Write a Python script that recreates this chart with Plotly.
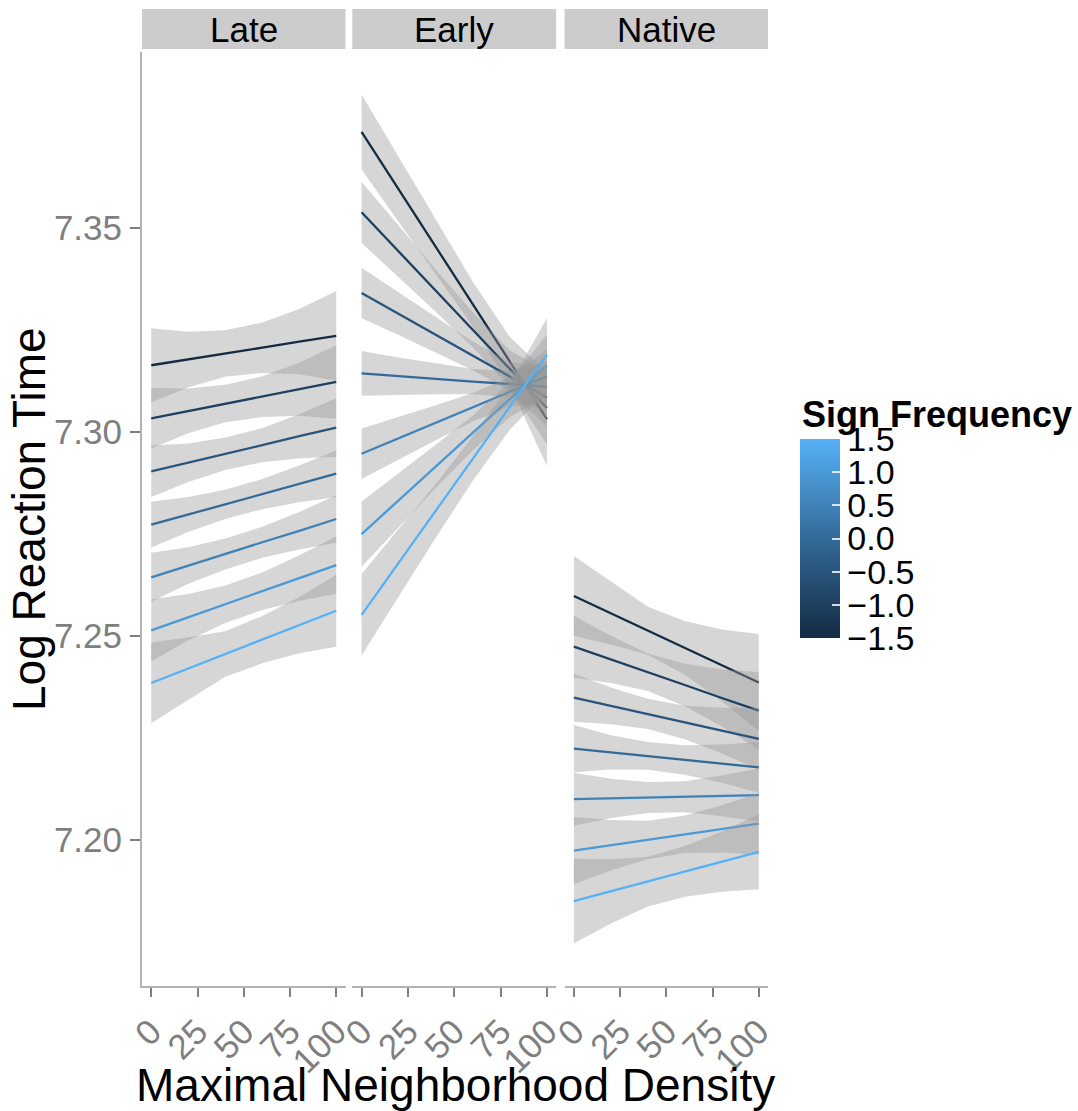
import plotly.graph_objects as go
from plotly.subplots import make_subplots
from plotly.colors import sample_colorscale

W, H = 1078, 1111

# ---- data -------------------------------------------------------------
panels = ["Late", "Early", "Native"]
freq_levels = [-1.5, -1.0, -0.5, 0.0, 0.5, 1.0, 1.5]
freq_labels = ["\u22121.5", "\u22121.0", "\u22120.5", "0.0", "0.5", "1.0", "1.5"]
x_points = [0, 20, 40, 60, 80, 100]
x_ticks = [0, 25, 50, 75, 100]
y_ticks = [7.20, 7.25, 7.30, 7.35]

# predicted log RT per sign-frequency level (rows) at x_points (cols)
late_fit = [
    [7.3164, 7.3178, 7.3193, 7.3207, 7.3222, 7.3236],
    [7.3034, 7.3052, 7.3070, 7.3087, 7.3105, 7.3123],
    [7.2904, 7.2925, 7.2947, 7.2968, 7.2990, 7.3011],
    [7.2773, 7.2798, 7.2823, 7.2848, 7.2873, 7.2898],
    [7.2644, 7.2673, 7.2701, 7.2730, 7.2758, 7.2787],
    [7.2514, 7.2546, 7.2578, 7.2610, 7.2642, 7.2674],
    [7.2385, 7.2420, 7.2456, 7.2491, 7.2527, 7.2562],
]
early_fit = [
    [7.3736, 7.3595, 7.3454, 7.3314, 7.3173, 7.3032],
    [7.3539, 7.3443, 7.3347, 7.3251, 7.3155, 7.3059],
    [7.3341, 7.3290, 7.3239, 7.3187, 7.3136, 7.3085],
    [7.3144, 7.3137, 7.3131, 7.3124, 7.3118, 7.3111],
    [7.2947, 7.2985, 7.3023, 7.3061, 7.3099, 7.3137],
    [7.2750, 7.2833, 7.2916, 7.2998, 7.3081, 7.3164],
    [7.2552, 7.2680, 7.2807, 7.2935, 7.3062, 7.3190],
]
native_fit = [
    [7.2598, 7.2556, 7.2513, 7.2471, 7.2428, 7.2386],
    [7.2474, 7.2443, 7.2411, 7.2380, 7.2348, 7.2317],
    [7.2349, 7.2329, 7.2309, 7.2288, 7.2268, 7.2248],
    [7.2224, 7.2215, 7.2206, 7.2196, 7.2187, 7.2178],
    [7.2100, 7.2102, 7.2104, 7.2106, 7.2108, 7.2110],
    [7.1974, 7.1987, 7.2000, 7.2014, 7.2027, 7.2040],
    [7.1850, 7.1874, 7.1898, 7.1923, 7.1947, 7.1971],
]

# half-width of the confidence band at x_points
late_ci = [
    [0.0091, 0.0068, 0.0057, 0.0062, 0.0080, 0.0110],
    [0.0074, 0.0055, 0.0046, 0.0050, 0.0065, 0.0090],
    [0.0063, 0.0047, 0.0040, 0.0042, 0.0054, 0.0072],
    [0.0056, 0.0043, 0.0036, 0.0037, 0.0045, 0.0057],
    [0.0060, 0.0045, 0.0038, 0.0038, 0.0046, 0.0058],
    [0.0076, 0.0057, 0.0046, 0.0046, 0.0056, 0.0070],
    [0.0099, 0.0077, 0.0056, 0.0058, 0.0069, 0.0088],
]
early_ci = [
    [0.0092, 0.0080, 0.0066, 0.0055, 0.0060, 0.0115],
    [0.0075, 0.0063, 0.0052, 0.0043, 0.0045, 0.0090],
    [0.0062, 0.0052, 0.0043, 0.0035, 0.0036, 0.0072],
    [0.0055, 0.0046, 0.0038, 0.0031, 0.0032, 0.0062],
    [0.0062, 0.0052, 0.0043, 0.0035, 0.0036, 0.0066],
    [0.0080, 0.0066, 0.0053, 0.0043, 0.0044, 0.0076],
    [0.0100, 0.0083, 0.0066, 0.0054, 0.0056, 0.0090],
]
native_ci = [
    [0.0098, 0.0077, 0.0059, 0.0066, 0.0088, 0.0119],
    [0.0076, 0.0058, 0.0046, 0.0052, 0.0070, 0.0095],
    [0.0059, 0.0045, 0.0037, 0.0041, 0.0056, 0.0075],
    [0.0058, 0.0042, 0.0034, 0.0036, 0.0047, 0.0062],
    [0.0065, 0.0048, 0.0038, 0.0038, 0.0050, 0.0065],
    [0.0082, 0.0062, 0.0047, 0.0046, 0.0058, 0.0076],
    [0.0104, 0.0079, 0.0061, 0.0062, 0.0074, 0.0092],
]

fits = {"Late": late_fit, "Early": early_fit, "Native": native_fit}
cis = {"Late": late_ci, "Early": early_ci, "Native": native_ci}

# ---- styling ----------------------------------------------------------
FONT = "Liberation Sans, Arial, Helvetica, sans-serif"
GRAD = [[0.0, "#132B43"], [0.5, "#336A98"], [1.0, "#56B1F7"]]
RIBBON = "rgba(153,153,153,0.4)"
AXIS_LINE = "#B3B3B3"
TICK_COL = "#7F7F7F"

# panel geometry (pixels)
panel_x = [(142, 345.5), (352.3, 556.2), (564.6, 768)]
panel_top, panel_bottom = 52, 986
strip_top, strip_bottom = 9, 49
bar_left, bar_w, bar_top, bar_bottom = 800, 40, 439, 638


def px_x(v):
    return v / W


def px_y(v):
    return 1 - v / H


fig = make_subplots(rows=1, cols=3, shared_yaxes=True, horizontal_spacing=0.01)

all_lo, all_hi = [], []
for p, name in enumerate(panels):
    for i, f in enumerate(freq_levels):
        fit = fits[name][i]
        hw = cis[name][i]
        upper = [a + b for a, b in zip(fit, hw)]
        lower = [a - b for a, b in zip(fit, hw)]
        all_lo += lower
        all_hi += upper
        colour = sample_colorscale(GRAD, [(f - freq_levels[0]) / (freq_levels[-1] - freq_levels[0])])[0]
        # band first, then its line (grouped drawing order)
        fig.add_trace(
            go.Scatter(
                x=x_points + x_points[::-1],
                y=upper + lower[::-1],
                fill="toself",
                fillcolor=RIBBON,
                line=dict(width=0),
                mode="lines",
                hoverinfo="skip",
                showlegend=False,
            ),
            row=1, col=p + 1,
        )
        fig.add_trace(
            go.Scatter(
                x=x_points,
                y=fit,
                mode="lines",
                line=dict(color=colour, width=2.3),
                showlegend=False,
                name=f"{name} {f}",
            ),
            row=1, col=p + 1,
        )

# colour bar for sign frequency
fig.add_trace(
    go.Scatter(
        x=[None], y=[None], mode="markers", showlegend=False, hoverinfo="skip",
        marker=dict(
            color=[0], colorscale=GRAD, cmin=freq_levels[0], cmax=freq_levels[-1],
            showscale=True,
            colorbar=dict(
                thickness=bar_w, thicknessmode="pixels",
                len=bar_bottom - bar_top, lenmode="pixels",
                x=px_x(bar_left), xanchor="left",
                y=px_y((bar_top + bar_bottom) / 2), yanchor="middle",
                xpad=0, ypad=0, outlinewidth=0,
                tickvals=freq_levels, ticktext=freq_labels,
                ticks="inside", ticklen=8, tickwidth=1.5, tickcolor="rgba(255,255,255,0.8)",
                tickfont=dict(family=FONT, size=34, color="black"),
            ),
        ),
    ),
    row=1, col=1,
)

lo, hi = min(all_lo), max(all_hi)
pad = 0.05 * (hi - lo)
y_range = [lo - pad, hi + pad]

ydom = [px_y(panel_bottom), px_y(panel_top)]
for k in range(3):
    sfx = "" if k == 0 else str(k + 1)
    fig.layout["xaxis" + sfx].update(
        domain=[px_x(panel_x[k][0]), px_x(panel_x[k][1])],
        range=[-5, 105],
        tickvals=x_ticks,
        ticktext=[str(t) for t in x_ticks],
        tickangle=-45,
        ticks="outside", ticklen=9, tickwidth=1.5, tickcolor=TICK_COL,
        tickfont=dict(family=FONT, size=35, color=TICK_COL),
        showline=True, linecolor=AXIS_LINE, linewidth=2,
        showgrid=False, zeroline=False, automargin=False,
    )
    fig.layout["yaxis" + sfx].update(
        domain=ydom, range=y_range, showgrid=False, zeroline=False, automargin=False,
    )

fig.layout.yaxis.update(
    tickvals=y_ticks,
    ticktext=[f"{t:.2f}" for t in y_ticks],
    ticks="outside", ticklen=10, tickwidth=1.5, tickcolor=TICK_COL,
    ticklabelstandoff=1,
    tickfont=dict(family=FONT, size=35, color=TICK_COL),
    showline=True, linecolor=AXIS_LINE, linewidth=2,
)
for sfx in ["2", "3"]:
    fig.layout["yaxis" + sfx].update(showline=False, ticks="", showticklabels=False)

# facet strips
shapes, annotations = [], []
for k, name in enumerate(panels):
    x0, x1 = panel_x[k]
    shapes.append(dict(
        type="rect", xref="paper", yref="paper",
        x0=px_x(x0), x1=px_x(x1), y0=px_y(strip_bottom), y1=px_y(strip_top),
        fillcolor="#CCCCCC", line=dict(width=0), layer="below",
    ))
    annotations.append(dict(
        text=name, xref="paper", yref="paper", showarrow=False,
        x=px_x((x0 + x1) / 2), y=px_y((strip_top + strip_bottom) / 2),
        xanchor="center", yanchor="middle",
        font=dict(family=FONT, size=35, color="black"),
    ))

# short ticks on the left edge of the colour bar
for f in freq_levels[1:-1]:
    frac = (f - freq_levels[0]) / (freq_levels[-1] - freq_levels[0])
    yy = bar_bottom - frac * (bar_bottom - bar_top)
    shapes.append(dict(
        type="line", xref="paper", yref="paper",
        x0=px_x(bar_left), x1=px_x(bar_left + 8), y0=px_y(yy), y1=px_y(yy),
        line=dict(color="rgba(255,255,255,0.8)", width=1.5), layer="above",
    ))

# axis titles and colour-bar title
annotations.append(dict(
    text="Maximal Neighborhood Density", xref="paper", yref="paper", showarrow=False,
    x=px_x(455), y=px_y(1085), xanchor="center", yanchor="middle",
    font=dict(family=FONT, size=46, color="black"),
))
annotations.append(dict(
    text="Log Reaction Time", xref="paper", yref="paper", showarrow=False,
    x=px_x(29), y=px_y(519), xanchor="center", yanchor="middle", textangle=-90,
    font=dict(family=FONT, size=46, color="black"),
))
annotations.append(dict(
    text="<b>Sign Frequency</b>", xref="paper", yref="paper", showarrow=False,
    x=px_x(800), y=px_y(414), xanchor="left", yanchor="middle",
    font=dict(family=FONT, size=36, color="black"),
))

fig.update_layout(
    width=W, height=H,
    margin=dict(l=0, r=0, t=0, b=0),
    paper_bgcolor="white", plot_bgcolor="white",
    shapes=shapes, annotations=annotations,
    showlegend=False,
)

fig.write_html("out.html")
